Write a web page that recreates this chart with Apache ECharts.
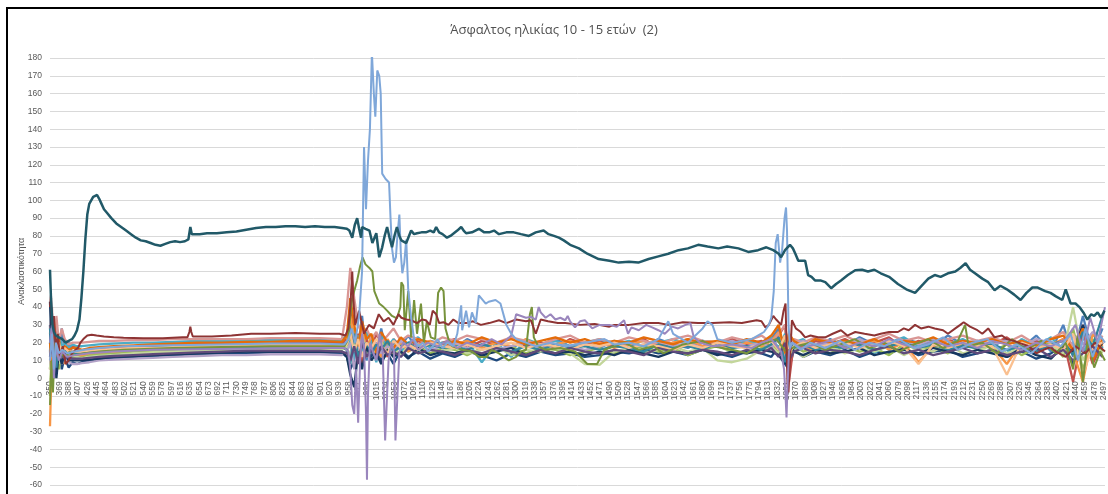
<!DOCTYPE html>
<html><head><meta charset="utf-8">
<script src="https://cdn.jsdelivr.net/npm/echarts@6/dist/echarts.min.js"></script>
<style>html,body{margin:0;padding:0;background:#fff}#c{width:1108px;height:494px}</style>
</head><body><div id="c"></div><script>
const WL_START = 350, WL_END = 2500;
const titleText = 'Άσφαλτος ηλικίας 10 - 15 ετών  (2)';
const yName = 'Ανακλαστικότητα';
const yMin = -60, yMax = 180, yStep = 10;

// shared wavelength grid for the dense band of spectra
const bandWl = [
350,354,358,363,368,374,380,388,396,405,
415,430,450,480,520,560,600,650,700,750,
800,850,900,945,955,962,970,978,986,995,
1005,1015,1025,1038,1050,1065,1080,1100,1125,1150,
1175,1200,1230,1260,1290,1320,1350,1380,1410,1440,
1470,1500,1530,1560,1590,1620,1650,1680,1710,1740,
1770,1800,1820,1835,1848,1856,1866,1885,1910,1940,
1970,2000,2030,2060,2090,2120,2150,2180,2210,2240,
2270,2300,2330,2360,2390,2415,2435,2455,2475,2495];

const sNavy = [30,-5,20,8,22,5,12,6,9,8, 9,10,10.5,11,12,12.5,13,13.5,14,14, 14.5,14.5,14.5,14,12,5,10,22,8,15, 12,20,10,14,8,16,12,15,11,14, 12,15,13,10,14,12,15,13,14,12, 13,15,14,16,14,15,13,16,14,12, 15,14,12,18,8,5,16,12,15,13, 16,12,15,14,17,13,15,16,12,14, 16,12,15,11,14,18,8,24,10,18];
const sBlue = [15,35,0,25,10,28,15,20,14,13, 14,15,15.5,16,17,17.5,18,18.5,19,19, 19.5,19.5,19.5,19.5,20,30,12,18,35,10, 22,15,28,12,20,18,24,16,21,19, 17,22,18,20,17,21,19,22,18,20, 17,21,19,18,22,19,17,21,19,18, 20,18,22,28,10,25,15,20,17,22, 18,23,19,17,22,20,18,24,19,21, 18,22,17,24,15,30,12,35,14,28];
const sRed = [5,28,12,30,18,10,22,16,18,17, 15,16,16.5,17,18,18.5,19,19.5,20,20, 20.5,20.5,20.5,20,22,40,18,25,8,22, 15,25,20,12,22,18,16,21,18,20, 22,17,21,19,23,18,20,17,22,19, 21,18,20,22,17,20,21,18,20,22, 19,21,18,24,30,-2,20,17,21,19, 22,18,20,23,17,21,19,22,18,20, 19,23,17,21,18,22,-2,26,8,20];
const sGreen = [-10,20,10,18,5,15,10,13,12,12, 12.5,13,13.5,14,15,15.5,16,16.5,17,17, 17.5,17.5,17.5,17,16,22,28,15,20,12, 18,10,22,16,13,19,15,18,14,17, 16,13,17,15,18,14,17,16,13,15, 17,14,16,18,15,17,13,16,18,15, 14,17,19,15,22,12,18,15,17,14, 18,15,17,13,19,16,18,14,20,16, 15,19,13,17,20,12,28,5,22,15];
const sCyan = [20,10,30,12,25,18,20,17,19,18, 18,18.5,19,19.5,20,20,20.5,21,21,21, 21.5,21.5,21.5,21,25,18,10,24,15,26, 20,9,24,18,22,15,20,23,17,20, 18,21,9,20,12,22,19,21,18,20, 22,19,21,18,20,22,19,21,20,18, 21,19,23,17,25,18,20,22,16,21, 19,22,14,20,23,18,21,19,22,18, 20,14,22,18,23,16,20,14,25,17];
const sOrange = [-27,15,5,20,10,15,8,16,14,13, 13,14,14.5,15,16,16.5,17,17.5,18,18, 18.5,18.5,18.5,18,20,35,22,14,28,16, 24,18,12,22,16,20,15,19,21,17, 19,21,17,20,18,22,17,19,21,18, 20,17,19,21,18,20,22,18,19,17, 20,18,21,26,12,22,17,19,14,20, 17,19,21,16,20,9,18,21,17,20, 18,8,20,16,19,22,15,-2,25,18];
const sSalmon = [25,40,15,35,20,28,22,19,20,20, 20,20.5,21,21,21.5,21.5,22,22,22,22, 22.5,22.5,22.5,22,40,62,45,30,25,28, 22,26,20,24,28,21,24,22,19,23, 21,24,22,20,23,21,19,22,24,20, 22,20,23,21,19,22,24,21,20,23, 21,24,20,25,30,15,22,20,23,21, 24,20,22,25,21,23,20,22,24,21, 23,20,24,19,22,26,18,30,16,24];
const sLightGreen = [5,30,10,25,8,18,13,14,13,12, 11,12,12.5,13,14,14.5,15,15.5,16,16, 16,16.5,16.5,16,18,12,20,10,24,14, 18,12,20,15,17,13,18,14,16,15, 17,14,16,18,13,16,15,17,14,8, 7.5,15,17,14,16,18,15,17,10,9, 11,16,18,14,20,13,17,12,16,18, 14,17,15,18,13,17,15,19,14,16, 18,14,17,15,19,14,40,10,20,14];
const sLavender = [15,0,25,5,18,8,12,9,8,8, 8.5,9,10,10.5,11,11.5,12,12.5,13,13, 13.5,13.5,13.5,13,15,20,5,18,22,12, 16,20,14,18,15,21,17,19,16,18, 20,17,19,16,18,20,17,19,18,16, 18,20,17,19,21,18,20,17,19,21, 18,20,17,22,10,24,19,21,18,20, 19,22,18,20,21,19,22,18,20,21, 19,21,18,22,20,17,24,19,26,22];
const sDarkNavy = [43,10,25,0,15,8,14,10,10,10, 10,10.5,11,12,12.5,13,13.5,14,14.5,15, 15,15,15,15,12,2,-5,15,5,18, 10,14,8,16,12,15,11,17,13,15, 14,16,13,15,17,13,16,14,15,13, 15,13,16,14,12,15,14,16,13,15, 14,16,15,13,8,22,15,13,16,14, 15,17,13,15,16,14,17,15,13,16, 14,12,17,13,11,18,15,30,12,20];
const sDarkOrange = [20,5,32,10,22,12,18,16,17,17, 16,17,17.5,18,18.5,19,19.5,20,20,20.5, 20.5,21,21,20.5,24,45,30,18,32,22, 25,14,26,20,17,23,19,22,20,18, 21,19,23,20,22,19,21,23,20,22, 19,21,20,23,21,19,22,20,21,19, 22,20,24,30,14,25,21,18,22,20, 21,19,22,18,21,20,23,19,21,20, 22,19,21,18,22,24,16,28,10,22];
const sTealBlue = [28,12,22,6,20,12,16,14,14,14, 14,14.5,15,15.5,16,16.5,17,17,17.5,17.5, 18,18,18,17.5,16,8,25,12,18,20, 14,19,16,21,15,18,20,16,19,17, 18,16,19,17,15,18,16,19,17,18, 16,18,17,15,19,17,18,16,20,17, 18,16,19,23,9,20,17,19,16,18, 17,19,16,18,20,17,19,16,18,17, 19,16,18,15,19,21,13,26,18,35];
const sLightOrange = [10,22,18,15,20,14,17,15,15,15, 15,15.5,16,16.5,17,17,17.5,18,18,18.5, 18.5,18.5,18.5,18.5,19,25,15,22,12,20, 17,22,18,14,21,17,19,16,20,18, 17,19,16,18,20,17,19,18,16,19, 18,20,17,19,18,16,19,17,20,18, 17,19,21,16,24,14,18,20,17,19, 20,17,19,21,18,8,19,17,20,18, 18,2,20,17,19,16,25,2,18,20];
const sDarkPurple = [12,20,8,16,12,14,11,12,11,11, 11,11.5,12,12.5,13,13.5,14,14.5,15,15.5, 15.5,15.5,15.5,15,14,10,18,8,20,12, 16,11,18,13,15,12,17,14,16,15, 13,16,14,17,15,13,16,14,17,15, 14,16,15,13,17,15,14,16,15,13, 16,14,17,12,20,10,15,17,14,16, 15,13,16,18,14,16,13,15,17,14, 16,13,15,17,12,16,10,14,18,12];

// individually read spectra: [wavelength, reflectance]
const sOlive = [[350,-15],[353,10],[356,-8],[360,20],[365,12],[372,14],[380,12],[390,15],[400,13],[420,14],[450,15],[500,16],[600,17],[700,17.5],[800,18],[900,18],[950,18],
[958,22],[962,35],[966,45],[970,49],[976,55],[982,63],[987,68],[993,64],[1001,62],[1007,60],[1011,49],[1021,42],[1030,40],[1037,38],[1047,35],[1057,33.6],[1064,40],[1066,54],[1070,52],[1073,27],[1080,49],[1086,23],[1092,44],[1098,25],[1106,42],[1112,20],[1118,32],[1126,23],[1135,22],[1141,48],[1147,51],[1152,49],[1156,28],[1162,22],[1170,18],[1190,16],[1210,15],[1224,12],[1240,12],[1250,16],[1265,14],[1285,10],[1300,12],[1310,15],[1320,16],[1328,36],[1332,40],[1336,23],[1345,18],[1360,16],[1390,17],[1420,15],[1445,8],[1465,8],[1480,16],[1520,20],[1550,16],[1580,18],[1600,14],[1640,19],[1680,21],[1700,18],[1740,16],[1770,14],[1800,19],[1830,22],[1850,15],[1870,18],[1900,20],[1930,16],[1960,19],[1990,22],[2020,17],[2050,20],[2080,15],[2110,19],[2140,22],[2170,17],[2200,21],[2215,30],[2222,18],[2250,20],[2280,14],[2310,22],[2340,16],[2370,21],[2400,14],[2420,20],[2435,5],[2445,25],[2455,-2],[2465,22],[2478,6],[2490,15],[2500,10]];

const sDarkRed = [[350,40],[352,47],[355,20],[358,35],[362,15],[366,25],[370,12],[376,18],[382,8],[388,10],[395,14],[402,16],[407,17],[412,20],[418,22],[426,24],[435,24.5],[445,24],[460,23.5],[480,23],[500,22.8],[540,22.5],[580,22.5],[620,23],[630,23],[634,26],[636,29],[638,26],[641,23.5],[680,23.5],[720,24],[760,25],[800,25],[850,25.5],[900,25],[940,25],[952,24],[958,28],[962,40],[966,60],[968,45],[972,30],[980,38],[990,25],[1000,30],[1010,28],[1020,36],[1030,32],[1040,34],[1050,30],[1060,36],[1066,34],[1076,33],[1086,32.6],[1098,31],[1108,33],[1116,32.6],[1124,30],[1130,38],[1137,36],[1143,31],[1152,31.5],[1162,30],[1172,33],[1182,31],[1198,31],[1212,32],[1228,30],[1245,31],[1265,32.6],[1280,31],[1300,33],[1320,32],[1330,32.6],[1340,25],[1350,33],[1365,32],[1385,31],[1400,31],[1430,30],[1460,30.5],[1490,29],[1500,30],[1530,30],[1560,31],[1590,31],[1610,30],[1640,31.5],[1671,31],[1700,31],[1735,31.5],[1760,31],[1790,32.6],[1800,32],[1808,28.6],[1815,30],[1824,35],[1830,33],[1840,30],[1845,38],[1849,42],[1851,20],[1853,-3],[1855,-8],[1858,10],[1862,32.6],[1870,28],[1880,26],[1889,23],[1900,24],[1915,23],[1930,23],[1945,25],[1962,27],[1975,24],[1991,26],[2010,25],[2030,24],[2043,25],[2060,26],[2078,26],[2090,28],[2100,27],[2113,30],[2125,28],[2140,29],[2153,28],[2170,27],[2180,25],[2195,28],[2205,30],[2212,31.5],[2225,29],[2240,27],[2250,25],[2262,28],[2275,23],[2290,24],[2300,22],[2315,21],[2328,19.6],[2345,18],[2360,14],[2375,16],[2389,17.5],[2400,15],[2420,12],[2440,18],[2460,14],[2480,20],[2500,15]];

const sPurple = [[350,20],[354,30],[358,0],[362,18],[368,10],[375,15],[385,12],[400,13],[430,14],[480,15],[560,16],[700,16.5],[850,17],[950,17],
[958,15],[962,5],[966,-15],[970,-20],[974,5],[978,-25],[982,10],[986,25],[990,18],[994,-20],[996,-57],[998,-10],[1002,20],[1008,15],[1015,10],[1022,25],[1028,15],[1033,-35],[1036,-35],[1040,10],[1046,20],[1051,15],[1054,-35],[1058,-35],[1062,15],[1070,20],[1080,18],[1090,22],[1100,16],[1120,20],[1140,18],[1160,21],[1180,17],[1200,20],[1225,18],[1250,22],[1270,19],[1290,24],[1300,36],[1310,35],[1320,34],[1330,34.5],[1340,33],[1346,40],[1350,37],[1360,34],[1370,36],[1380,33],[1390,34],[1400,32.6],[1405,35],[1410,32],[1420,28.6],[1430,32],[1440,32.6],[1455,28],[1470,30],[1490,30],[1505,29],[1520,32.6],[1528,25],[1535,28.6],[1550,27],[1565,30],[1577,28.6],[1590,27],[1603,25],[1618,29],[1630,28],[1645,30],[1655,31],[1662,23],[1675,20],[1700,18],[1740,19],[1780,17],[1800,20],[1820,22],[1840,15],[1846,5],[1849,-10],[1851,-22],[1853,-5],[1856,15],[1862,20],[1880,17],[1910,19],[1940,21],[1970,17],[2000,20],[2030,18],[2060,22],[2090,19],[2120,17],[2150,21],[2180,18],[2210,20],[2240,17],[2270,21],[2300,19],[2330,16],[2360,20],[2390,18],[2420,22],[2440,30],[2455,15],[2470,34],[2485,20],[2500,40]];

const sLightBlue = [[350,10],[354,25],[358,5],[362,20],[368,14],[375,16],[385,14],[400,15],[420,16],[450,17],[500,18],[600,18.5],[700,19],[800,19.5],[900,19.5],[950,19],
[958,22],[965,28],[972,20],[980,35],[986,60],[990,130],[994,95],[998,122],[1002,140],[1006,183],[1010,160],[1013,147],[1017,173],[1021,170],[1024,160],[1027,115],[1034,112],[1041,110],[1044,90],[1047,73],[1051,65],[1055,68],[1058,80],[1062,92],[1065,70],[1068,59],[1072,65],[1076,78],[1080,50],[1086,34],[1092,22],[1100,18],[1110,20],[1120,15],[1130,18],[1140,22],[1150,17],[1160,20],[1172,18],[1180,25],[1188,41],[1190,27],[1198,38],[1204,28.6],[1210,37],[1218,31],[1224,46.6],[1238,42],[1244,43],[1258,44],[1268,42],[1280,30],[1290,25],[1300,22],[1320,20],[1340,18],[1370,20],[1400,18],[1440,20],[1480,22],[1500,19],[1530,20],[1560,18],[1590,22],[1610,32],[1620,25],[1650,20],[1680,28],[1690,32],[1700,30],[1710,22],[1740,20],[1780,22],[1805,26],[1815,30],[1820,34],[1825,49],[1829,76],[1833,81],[1838,65],[1842,72],[1847,90],[1850,96],[1852,83],[1855,31],[1858,17],[1862,20],[1880,16],[1900,20],[1930,17],[1960,21],[1990,16],[2020,20],[2050,18],[2080,22],[2110,17],[2140,19],[2170,23],[2200,16],[2230,20],[2260,22],[2290,15],[2320,19],[2350,14],[2380,22],[2410,18],[2430,25],[2445,10],[2460,28],[2475,12],[2490,24],[2500,20]];

const sTeal = [[350,61],[352,45],[355,30],[358,26],[362,24],[368,23],[375,22],[382,20],[388,21],[395,22],[400,24],[405,27],[410,33],[414,45],[418,60],[422,78],[426,92],[430,98],[434,100],[438,102],[442,103],[446,103],[450,101],[455,98],[460,95],[466,93],[475,90],[485,87],[495,85],[505,83],[515,81],[525,79],[535,77.5],[545,77],[555,76],[565,75],[575,74.5],[585,75.5],[595,76.5],[605,77],[615,76.5],[625,77],[632,78],[636,85],[639,81],[642,80],[655,81],[670,81.5],[690,81.5],[710,82],[730,82.5],[750,83.5],[770,84.5],[790,85],[810,85],[830,85.5],[850,85.5],[870,85],[890,85.5],[910,85],[930,85],[945,84.5],[955,84],[960,83],[966,79],[971,86],[976,90],[980,84],[984,79],[986,85],[993,84],[1001,83],[1007,76],[1015,81.5],[1021,68],[1027,73.6],[1032,80],[1037,85],[1042,79],[1047,73.6],[1052,80],[1057,85],[1062,80],[1066,77.5],[1076,76],[1086,83],[1092,81],[1098,81.5],[1107,82],[1116,82],[1125,83],[1132,82],[1137,85],[1143,82],[1150,81],[1159,79],[1166,80],[1173,81.5],[1180,83],[1188,85],[1193,83],[1198,81.5],[1210,82],[1224,84],[1235,82],[1245,82],[1255,83],[1265,81],[1280,82],[1295,82],[1310,81],[1326,80],[1340,82],[1356,83],[1366,81],[1377,80],[1387,79],[1397,77.5],[1410,75],[1428,73],[1445,70],[1468,67],[1490,66],[1509,65],[1530,65.5],[1549,65],[1570,67],[1590,68.5],[1610,70],[1631,72],[1650,73],[1671,75],[1690,74],[1712,73],[1730,74],[1753,73],[1773,71],[1793,72],[1810,73.6],[1824,72],[1835,70],[1840,68],[1848,72],[1858,75],[1864,73],[1869,70],[1875,66],[1889,66],[1895,58],[1902,57],[1909,55],[1920,55],[1930,54],[1942,50.6],[1952,53],[1962,55],[1976,58],[1991,60.7],[2005,61],[2017,60],[2030,61],[2043,59],[2060,57],[2078,53],[2095,50],[2113,48],[2130,53],[2140,56],[2153,58],[2165,57],[2180,59],[2195,60],[2205,62],[2216,64.6],[2225,61],[2235,59],[2250,56],[2262,54],[2275,49.5],[2287,52],[2300,50],[2315,47],[2328,44],[2340,48],[2352,51],[2363,51],[2378,49],[2389,48],[2400,46],[2413,44],[2420,50],[2430,42],[2440,42],[2448,40],[2456,37],[2464,33],[2472,36],[2478,35],[2485,37],[2492,34],[2499,38]];

const bandSeries = [
  ['#1f497d', sNavy], ['#4f81bd', sBlue], ['#c0504d', sRed], ['#9bbb59', sGreen],
  ['#4bacc6', sCyan], ['#f79646', sOrange], ['#d99694', sSalmon], ['#c3d69b', sLightGreen],
  ['#b3a2c7', sLavender], ['#17375e', sDarkNavy], ['#e46c0a', sDarkOrange], ['#31859c', sTealBlue],
  ['#fac090', sLightOrange], ['#604a7b', sDarkPurple]
];
const pairSeries = [
  ['#77933c', sOlive, 2], ['#8e3434', sDarkRed, 2], ['#9a86bd', sPurple, 2],
  ['#7fa7d9', sLightBlue, 2], ['#215968', sTeal, 2.5]
];

const categories = [];
for (let w = WL_START; w <= WL_END; w++) categories.push(String(w));

const GRID_TOP = 58, GRID_BOTTOM = 9, CHART_H = 494;
const gridH = CHART_H - GRID_TOP - GRID_BOTTOM;
// shift the category axis up so it crosses the value axis at 0 (as in the original)
const xAxisOffset = -gridH * (0 - yMin) / (yMax - yMin);

const series = [];
bandSeries.forEach(([c, vals]) => {
  series.push({type:'line', symbol:'none', data: bandWl.map((w,i)=>[w-WL_START, vals[i]]),
    lineStyle:{width:2.3, color:c}, itemStyle:{color:c}, silent:true});
});
pairSeries.forEach(([c, arr, lw]) => {
  series.push({type:'line', symbol:'none', data: arr.map(p=>[p[0]-WL_START, p[1]]),
    lineStyle:{width:lw, color:c}, itemStyle:{color:c}, silent:true});
});

const chart = echarts.init(document.getElementById('c'), null, {renderer:'canvas'});
chart.setOption({
  animation:false,
  backgroundColor:'#fff',
  title:{text:titleText, left:'center', top:19,
    textStyle:{fontSize:13, fontWeight:'normal', color:'#505050', fontFamily:'Open Sans'}},
  grid:{left:50, right:0, top:GRID_TOP, bottom:GRID_BOTTOM, containLabel:false},
  xAxis:{type:'category', data:categories, boundaryGap:false, offset:xAxisOffset,
    axisLine:{onZero:false, lineStyle:{color:'#d9d9d9'}},
    axisTick:{show:false},
    axisLabel:{interval:18, rotate:90, fontSize:8.5, color:'#595959', margin:3, fontFamily:'Liberation Sans'},
    splitLine:{show:false}},
  yAxis:{type:'value', min:yMin, max:yMax, interval:yStep,
    name:yName, nameLocation:'middle', nameGap:24, nameRotate:90, nameMoveOverlap:false,
    nameTextStyle:{fontSize:9, color:'#595959', fontFamily:'Liberation Sans'},
    axisLine:{show:false}, axisTick:{show:false},
    axisLabel:{fontSize:8.5, color:'#595959', margin:8, fontFamily:'Liberation Sans'},
    splitLine:{lineStyle:{color:'#d9d9d9', width:1}}},
  graphic:[{type:'rect', shape:{x:7, y:8, width:1300, height:700},
    style:{fill:null, stroke:'#000', lineWidth:2}, silent:true, z:100}],
  series: series
});
</script></body></html>
